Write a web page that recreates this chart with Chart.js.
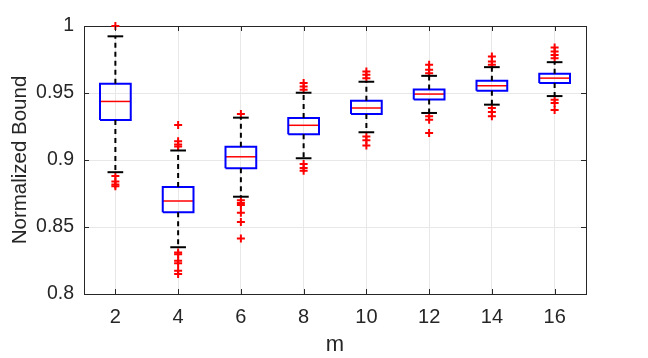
<!DOCTYPE html>
<html>
<head>
<meta charset="utf-8">
<script src="https://cdn.jsdelivr.net/npm/chart.js@4.4.0/dist/chart.umd.min.js"></script>
<style>
	body { margin: 0; background: #fff; }
	#wrap { width: 648px; height: 358px; }
</style>
</head>
<body>
<div id="wrap"><canvas id="box_chart"></canvas></div>
<script>
// box stats for each m
var mValues = [2, 4, 6, 8, 10, 12, 14, 16];
var whiskerLow = [0.8909, 0.8349, 0.8726, 0.9013, 0.9207, 0.9351, 0.9413, 0.9477];
var q1 = [0.9299, 0.8610, 0.8939, 0.9192, 0.9343, 0.9452, 0.9517, 0.9574];
var medians = [0.9437, 0.8694, 0.9024, 0.9259, 0.9388, 0.9492, 0.9554, 0.9611];
var q3 = [0.9569, 0.8798, 0.9098, 0.9314, 0.9442, 0.9527, 0.9591, 0.9643];
var whiskerHigh = [0.9923, 0.9071, 0.9316, 0.9502, 0.9584, 0.9628, 0.9693, 0.9730];
var outliers = [
	[1.0, 0.888, 0.884, 0.8818, 0.8805],
	[0.9262, 0.914, 0.9115, 0.910, 0.831, 0.8297, 0.8248, 0.823, 0.8173, 0.815],
	[0.9343, 0.8699, 0.8664, 0.8607, 0.8538, 0.8414, 0.868],
	[0.9574, 0.9549, 0.9524, 0.897, 0.894, 0.892],
	[0.966, 0.9636, 0.9611, 0.9175, 0.9147, 0.9108],
	[0.971, 0.9673, 0.9648, 0.9326, 0.9301, 0.9202],
	[0.9772, 0.9735, 0.971, 0.9388, 0.9358, 0.9326],
	[0.9839, 0.9809, 0.9784, 0.976, 0.945, 0.9425, 0.9373]
];
var xTicks = [2, 4, 6, 8, 10, 12, 14, 16];
var yTicks = [0.8, 0.85, 0.9, 0.95, 1];

var BOX_HALF = 0.49;
var CAP_HALF = 0.25;
var axisColor = '#262626';
var fontFam = '"Liberation Sans", Arial, sans-serif';

function lineSet(pts, color, width, dash) {
	return {
		type: 'scatter',
		data: pts,
		showLine: true,
		borderColor: color,
		borderWidth: width,
		borderDash: dash || [],
		pointRadius: 0,
		fill: false,
		clip: false
	};
}

function buildDatasets() {
	var sets = [];
	for (var i = 0; i < mValues.length; i++) {
		var x = mValues[i];
		// whiskers, dashed
		sets.push(lineSet([{x: x, y: q3[i]}, {x: x, y: whiskerHigh[i]}], '#000', 2, [5, 4]));
		sets.push(lineSet([{x: x, y: q1[i]}, {x: x, y: whiskerLow[i]}], '#000', 2, [5, 4]));
		// caps
		sets.push(lineSet([{x: x - CAP_HALF, y: whiskerHigh[i]}, {x: x + CAP_HALF, y: whiskerHigh[i]}], '#000', 2));
		sets.push(lineSet([{x: x - CAP_HALF, y: whiskerLow[i]}, {x: x + CAP_HALF, y: whiskerLow[i]}], '#000', 2));
		// the box
		sets.push(lineSet([
			{x: x - BOX_HALF, y: q1[i]}, {x: x + BOX_HALF, y: q1[i]},
			{x: x + BOX_HALF, y: q3[i]}, {x: x - BOX_HALF, y: q3[i]},
			{x: x - BOX_HALF, y: q1[i]}
		], '#0000ff', 2));
		// median
		sets.push(lineSet([{x: x - BOX_HALF, y: medians[i]}, {x: x + BOX_HALF, y: medians[i]}], '#ff0000', 1.5));
		// outliers
		var pts = [];
		for (var j = 0; j < outliers[i].length; j++) {
			pts.push({x: x, y: outliers[i][j]});
		}
		sets.push({
			type: 'scatter',
			data: pts,
			pointStyle: 'cross',
			pointRadius: 4,
			pointBorderWidth: 2,
			pointBorderColor: '#ff0000',
			borderColor: '#ff0000',
			showLine: false,
			clip: false
		});
	}
	return sets;
}

//small inward ticks on all four sides, like the matlab box
var innerTicks = {
	id: 'innerTicks',
	afterDraw: function(chart) {
		var c = chart.ctx;
		var a = chart.chartArea;
		var sx = chart.scales.x, sy = chart.scales.y;
		c.save();
		c.strokeStyle = axisColor;
		c.lineWidth = 1;
		c.beginPath();
		xTicks.forEach(function(v) {
			var px = Math.round(sx.getPixelForValue(v)) + 0.5;
			c.moveTo(px, a.bottom); c.lineTo(px, a.bottom - 5);
			c.moveTo(px, a.top); c.lineTo(px, a.top + 5);
		});
		yTicks.forEach(function(v) {
			var py = Math.round(sy.getPixelForValue(v)) + 0.5;
			c.moveTo(a.left, py); c.lineTo(a.left + 5, py);
			c.moveTo(a.right, py); c.lineTo(a.right - 5, py);
		});
		c.stroke();
		c.restore();
	}
};

window.onload = function() {
	var ctx = document.getElementById('box_chart').getContext('2d');
	new Chart(ctx, {
		type: 'scatter',
		data: { datasets: buildDatasets() },
		plugins: [innerTicks],
		options: {
			responsive: true,
			maintainAspectRatio: false,
			animation: false,
			layout: { padding: 0 },
			plugins: { legend: { display: false }, tooltip: { enabled: false } },
			scales: {
				x: {
					type: 'linear', position: 'bottom', min: 1, max: 17,
					afterBuildTicks: function(s) { s.ticks = xTicks.map(function(v) { return {value: v}; }); },
					afterFit: function(s) { s.height = 64; },
					grid: { color: '#e8e8e8', drawTicks: false },
					border: { color: axisColor, width: 1 },
					ticks: { color: axisColor, padding: 11, font: { family: fontFam, size: 20 } },
					title: { display: true, text: 'm', color: axisColor, padding: { top: 9, bottom: 0 }, font: { family: fontFam, size: 22 } }
				},
				y: {
					type: 'linear', position: 'left', min: 0.8, max: 1,
					afterBuildTicks: function(s) { s.ticks = yTicks.map(function(v) { return {value: v}; }); },
					afterFit: function(s) { s.width = 84; },
					grid: { color: '#e8e8e8', drawTicks: false },
					border: { color: axisColor, width: 1 },
					ticks: { color: axisColor, padding: 10, font: { family: fontFam, size: 19.5 },
						callback: function(v) { return String(Math.round(v * 100) / 100); } },
					title: { display: true, text: 'Normalized Bound', color: axisColor, padding: { top: 8 }, font: { family: fontFam, size: 20.5 } }
				},
				x2: {
					type: 'linear', position: 'top', min: 1, max: 17,
					afterFit: function(s) { s.height = 26; },
					grid: { drawOnChartArea: false, drawTicks: false },
					border: { color: axisColor, width: 1 },
					ticks: { display: false }
				},
				y2: {
					type: 'linear', position: 'right', min: 0.8, max: 1,
					afterFit: function(s) { s.width = 62; },
					grid: { drawOnChartArea: false, drawTicks: false },
					border: { color: axisColor, width: 1 },
					ticks: { display: false }
				}
			}
		}
	});
};
</script>
</body>
</html>
